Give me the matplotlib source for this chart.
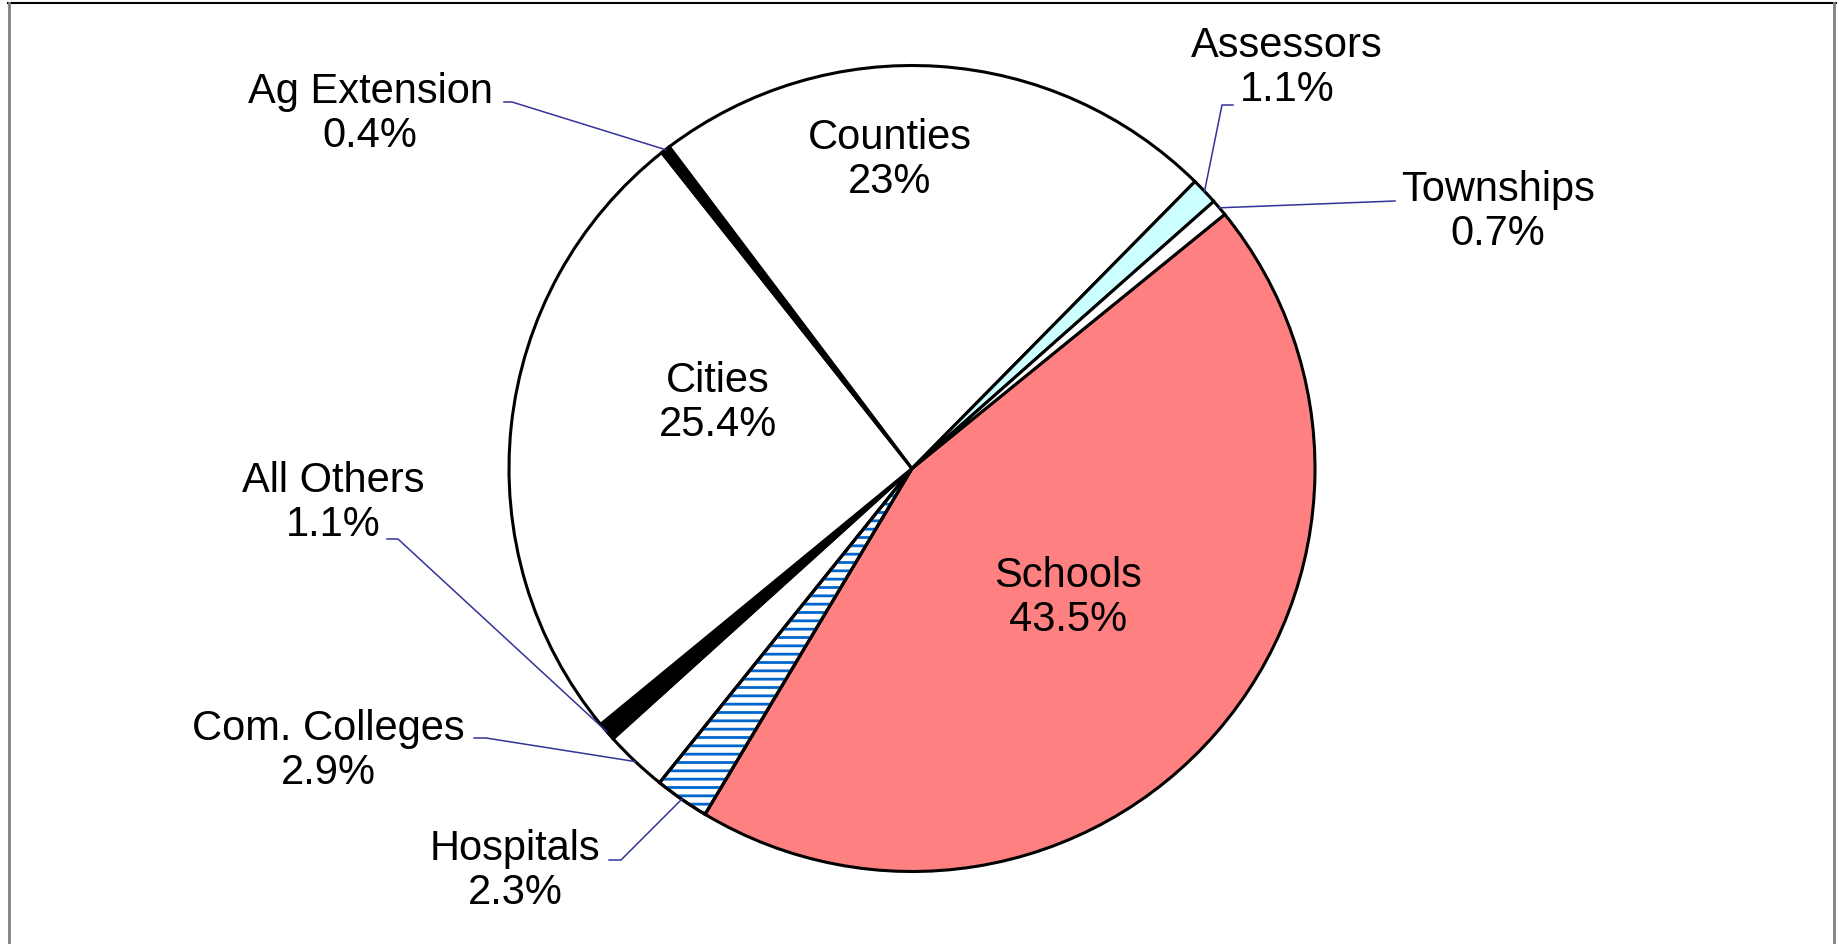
import matplotlib
matplotlib.use("Agg")
import matplotlib.pyplot as plt
from matplotlib.patches import Wedge
import numpy as np

plt.rcParams['font.family'] = ['Liberation Sans', 'DejaVu Sans']

categories = ["Schools", "Hospitals", "Com. Colleges", "All Others", "Cities",
              "Ag Extension", "Counties", "Assessors", "Townships"]
# percentages printed in the labels
label_pct = [43.5, 2.3, 2.9, 1.1, 25.4, 0.4, 23, 1.1, 0.7]
# slice sizes as drawn in the reference (measured from the wedge angles)
slice_shares = [44.44, 2.19, 2.53, 0.75, 25.28, 0.38, 22.67, 1.08, 0.67]
colors = ["#FF8080", "#FFFFFF", "#FFFFFF", "#000000", "#FFFFFF",
          "#000000", "#FFFFFF", "#CCFFFF", "#FFFFFF"]

W, H = 1837, 945
fig = plt.figure(figsize=(W / 100, H / 100), dpi=100)
ax = fig.add_axes([0, 0, 1, 1])

def P(x, y):
    return (x, H - y)

cx, cy = P(912, 469.5)
R = 403

wedges, _ = ax.pie(slice_shares, colors=colors, startangle=39.1, counterclock=False,
                   center=(cx, cy), radius=R, frame=True,
                   wedgeprops=dict(edgecolor='black', linewidth=2.2))
ax.set_xlim(0, W)
ax.set_ylim(0, H)
ax.set_aspect('equal')
ax.axis('off')

# Hatch for hospitals
plt.rcParams['hatch.linewidth'] = 2.0
hw = wedges[categories.index("Hospitals")]
hatch = Wedge(hw.center, hw.r, hw.theta1, hw.theta2, facecolor='none',
              edgecolor='#0066CC', hatch='--', linewidth=0, zorder=hw.get_zorder() + 0.5)
ax.add_patch(hatch)
outline = Wedge(hw.center, hw.r, hw.theta1, hw.theta2, facecolor='none',
                edgecolor='black', linewidth=2.2, zorder=hw.get_zorder() + 1)
ax.add_patch(outline)

def text_for(i):
    return f"{categories[i]}\n{label_pct[i]:g}%"

fs = 30
inside = {"Schools": P(1068, 598), "Cities": P(718, 403), "Counties": P(890, 160)}
for name, pos in inside.items():
    i = categories.index(name)
    ax.text(*pos, text_for(i), ha='center', va='center', fontsize=fs, linespacing=1.15)

outside = {
    "Ag Extension": (P(370, 114), [P(504, 103), P(512, 103)]),
    "Assessors": (P(1287, 68), [P(1233, 106), P(1222, 106)]),
    "Townships": (P(1498, 212), [P(1395, 202)]),
    "All Others": (P(333, 503), [P(387, 540), P(398, 540)]),
    "Com. Colleges": (P(328, 751), [P(474, 739), P(486, 739)]),
    "Hospitals": (P(515, 871), [P(609, 861), P(621, 861)]),
}
for name, (pos, path) in outside.items():
    i = categories.index(name)
    ax.text(*pos, text_for(i), ha='center', va='center', fontsize=fs, linespacing=1.15)
    w = wedges[i]
    mid = np.deg2rad((w.theta1 + w.theta2) / 2)
    ex = cx + R * np.cos(mid)
    ey = cy + R * np.sin(mid)
    xs = [p[0] for p in path] + [ex]
    ys = [p[1] for p in path] + [ey]
    ax.plot(xs, ys, color='#333399', linewidth=1.1, zorder=5)

# frame lines
ax.plot([8, W], [H - 4, H - 4], color='black', linewidth=1.5, clip_on=False)
ax.plot([8.5, 8.5], [0, H - 4], color='#808080', linewidth=2, clip_on=False)
ax.plot([W - 3.5, W - 3.5], [0, H - 4], color='#808080', linewidth=2, clip_on=False)

fig.savefig("out.png", dpi=100, facecolor='white')
